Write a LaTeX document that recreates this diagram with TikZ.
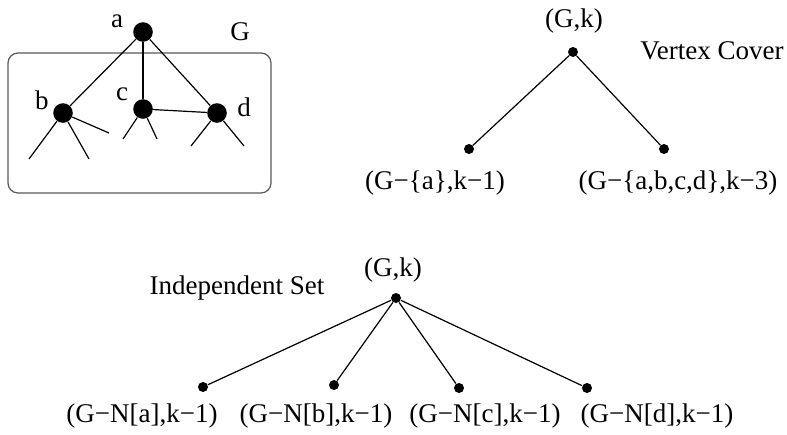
\documentclass[tikz,border=0pt]{standalone}
\usepackage{fontspec}
\setmainfont{Liberation Serif}
\usetikzlibrary{positioning}

\begin{document}
\begin{tikzpicture}[
  x=0.5pt, y=-0.5pt,
  font=\fontsize{13.5}{16}\selectfont,
  vertex/.style={circle, fill, inner sep=0pt, minimum size=9.8pt},
  dot/.style={circle, fill, inner sep=0pt, minimum size=5pt},
  lbl/.style={inner sep=0pt},
  edge/.style={line width=0.6pt}
]
\useasboundingbox (0,0) rectangle (787,434);

% the graph G
\draw[rounded corners=5pt, line width=0.6pt, black!65] (8,53) rectangle (271,193);
\node[vertex] (va) at (143,32) {};
\node[vertex] (vb) at (63,113) {};
\node[vertex] (vc) at (143,109) {};
\node[vertex] (vd) at (217,113) {};
\node[lbl] (la) at (117,21) {a};
\node[lbl] (lb) at (42,100) {b};
\node[lbl] (lc) at (122,94) {c};
\node[lbl] (ld) at (244,107) {d};
\node[lbl] (lG) at (240,32) {G};

\draw[edge] (va) -- (vb);
\draw[edge] (va) -- (vc);
\draw[edge] (va) -- (vd);
\draw[edge] (vc) -- (vd);

\coordinate (b1) at (29,159);
\coordinate (b2) at (89,159);
\coordinate (b3) at (109,133);
\coordinate (c1) at (123,139);
\coordinate (c2) at (157,139);
\coordinate (d1) at (191,146);
\coordinate (d2) at (244,146);
\foreach \s in {b1,b2,b3} \draw[edge] (vb) -- (\s);
\foreach \s in {c1,c2} \draw[edge] (vc) -- (\s);
\foreach \s in {d1,d2} \draw[edge] (vd) -- (\s);

% vertex cover branching
\node[dot] (vcroot) at (573,52) {};
\node[dot] (vcleft) at (469,149) {};
\node[dot] (vcright) at (664,149) {};
\node[lbl] (vcgk) at (574,21) {(G,k)};
\node[lbl] (vcname) at (712,51) {Vertex Cover};
\node[lbl] (vcl) at (435,183) {(G−\{a\},k−1)};
\node[lbl] (vcr) at (678,183) {(G−\{a,b,c,d\},k−3)};
\draw[edge] (vcroot) -- (vcleft);
\draw[edge] (vcroot) -- (vcright);

% independent set branching
\node[dot] (isroot) at (396,298) {};
\node[dot] (isa) at (203,387) {};
\node[dot] (isb) at (334,385) {};
\node[dot] (isc) at (459,388) {};
\node[dot] (isd) at (587,388) {};
\node[lbl] (isgk) at (393,270) {(G,k)};
\node[lbl] (isname) at (237,288) {Independent Set};
\node[lbl] (isla) at (142,416) {(G−N[a],k−1)};
\node[lbl] (islb) at (316,416) {(G−N[b],k−1)};
\node[lbl] (islc) at (485,416) {(G−N[c],k−1)};
\node[lbl] (isld) at (657,416) {(G−N[d],k−1)};
\foreach \c in {isa,isb,isc,isd} \draw[edge] (isroot) -- (\c);
\end{tikzpicture}
\end{document}
